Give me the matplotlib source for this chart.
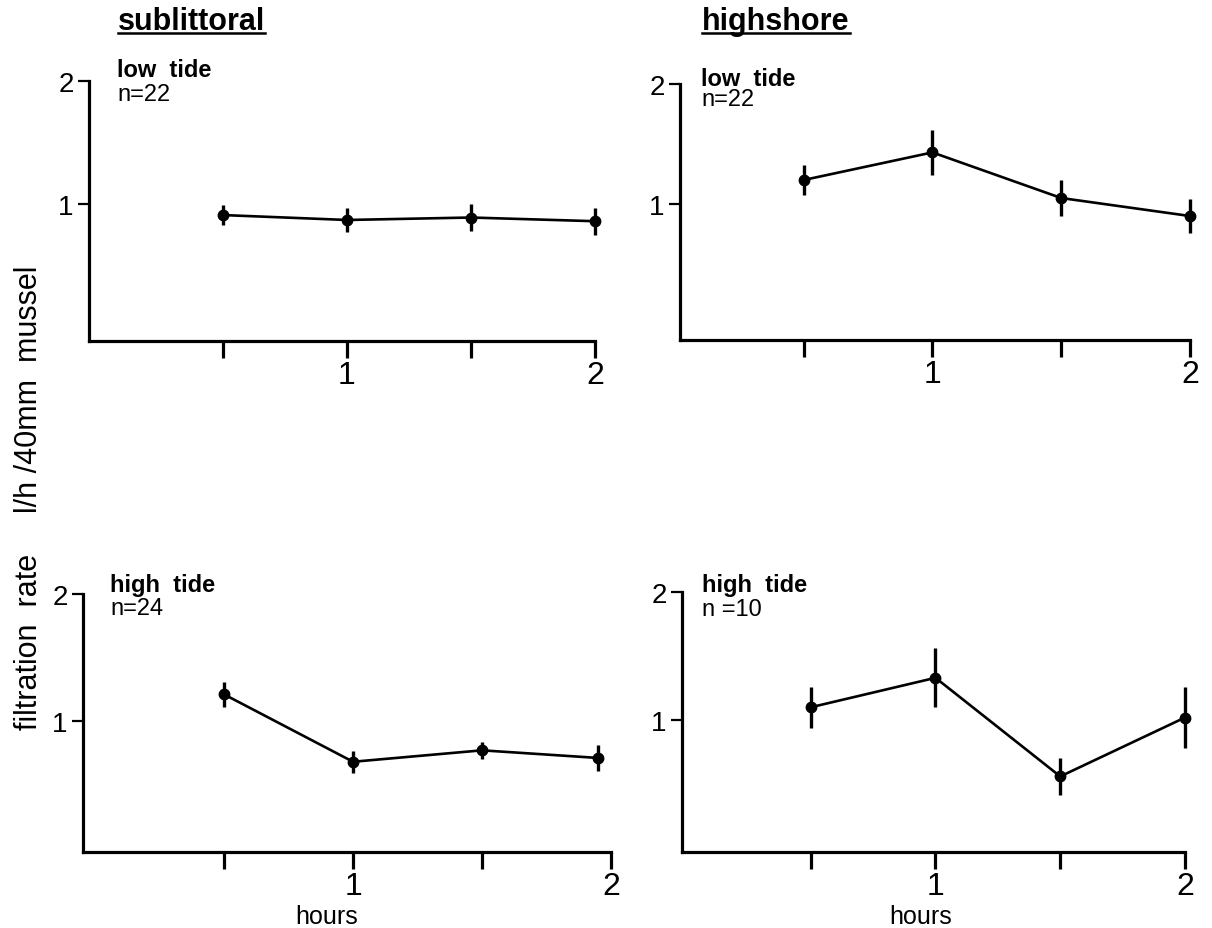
import matplotlib
matplotlib.use("Agg")
import matplotlib.pyplot as plt
from matplotlib.lines import Line2D

plt.rcParams['font.family'] = ['Liberation Sans', 'DejaVu Sans']

# data (filtration rate, l/h per 40mm mussel)
hours_sub_low = [0.5, 1.0, 1.5, 2.0]
rate_sub_low = [0.91, 0.87, 0.89, 0.86]
err_sub_low = [0.08, 0.10, 0.11, 0.11]

hours_high_low = [0.5, 1.0, 1.5, 2.0]
rate_high_low = [1.20, 1.43, 1.05, 0.90]
err_high_low = [0.125, 0.19, 0.15, 0.14]

hours_sub_high = [0.5, 1.0, 1.5, 1.95]
rate_sub_high = [1.21, 0.68, 0.77, 0.71]
err_sub_high = [0.10, 0.085, 0.065, 0.10]

hours_high_high = [0.5, 1.0, 1.5, 2.0]
rate_high_high = [1.10, 1.33, 0.56, 1.02]
err_high_high = [0.16, 0.23, 0.145, 0.24]

x_ticks = [0.5, 1.0, 1.5, 2.0]
x_tick_labels = ['', '1', '', '2']
y_ticks = [1, 2]
y_tick_labels = ['1', '2']

W, H = 1212, 929
fig = plt.figure(figsize=(W / 100, H / 100), dpi=100)
fig.patch.set_facecolor('white')


def fpx(x, y):
    return x / W, 1 - y / H


def add_panel(box, xlim, ylim, xs, ys, es, tide, n, txt_pos):
    left, top, right, bottom = box
    ax = fig.add_axes([left / W, 1 - bottom / H, (right - left) / W, (bottom - top) / H])
    ax.errorbar(xs, ys, yerr=es, color='black', lw=1.9, marker='o', ms=7.5,
                elinewidth=2.4, capsize=0, clip_on=False)
    ax.set_xlim(*xlim)
    ax.set_ylim(*ylim)
    for s in ['top', 'right']:
        ax.spines[s].set_visible(False)
    for s in ['left', 'bottom']:
        ax.spines[s].set_linewidth(2.3)
    ax.set_xticks(x_ticks)
    ax.set_xticklabels(x_tick_labels, fontsize=23)
    ax.set_yticks(y_ticks)
    ax.set_yticklabels(y_tick_labels, fontsize=20)
    ax.tick_params(axis='x', length=12, width=2.3, pad=2)
    ax.tick_params(axis='y', length=8, width=1.6, pad=3)
    ax.patch.set_alpha(0)
    tx, ty, ny = txt_pos
    fig.text(*fpx(tx, ty), tide, fontsize=17, fontweight='bold', va='top', ha='left')
    fig.text(*fpx(tx, ny), n, fontsize=17, va='top', ha='left')
    return ax


add_panel((89, 82, 595, 342), (-0.04, 2.0), (-0.114, 2.0),
          hours_sub_low, rate_sub_low, err_sub_low, 'low  tide', 'n=22', (117, 59, 84))
add_panel((680, 85, 1190, 341), (0.02, 2.0), (-0.133, 2.0),
          hours_high_low, rate_high_low, err_high_low, 'low  tide', 'n=22', (701, 68, 89))
add_panel((83, 595, 611, 853), (-0.047, 2.0), (-0.03, 2.0),
          hours_sub_high, rate_sub_high, err_sub_high, 'high  tide', 'n=24', (110, 574, 598))
add_panel((682, 593, 1185, 853), (-0.016, 2.0), (-0.03, 2.0),
          hours_high_high, rate_high_high, err_high_high, 'high  tide', 'n =10', (702, 574, 599))

# column titles, underlined
titles = []
for x, label in [(118, 'sublittoral'), (702, 'highshore')]:
    titles.append(fig.text(*fpx(x, 30), label, fontsize=22, fontweight='bold',
                           va='baseline', ha='left'))

fig.canvas.draw()
renderer = fig.canvas.get_renderer()
for t in titles:
    bb = t.get_window_extent(renderer)
    y = 1 - 34 / H
    fig.add_artist(Line2D([bb.x0 / W, bb.x1 / W], [y, y], color='black', lw=1.8))

fig.text(*fpx(327, 917), 'hours', fontsize=18, ha='center', va='center')
fig.text(*fpx(921, 917), 'hours', fontsize=18, ha='center', va='center')

fig.text(*fpx(29, 642), 'filtration  rate', fontsize=22,
         rotation=90, ha='center', va='center')
fig.text(*fpx(29, 389), 'l/h /40mm  mussel', fontsize=22,
         rotation=90, ha='center', va='center')

fig.savefig('out.png', dpi=100, facecolor='white')
